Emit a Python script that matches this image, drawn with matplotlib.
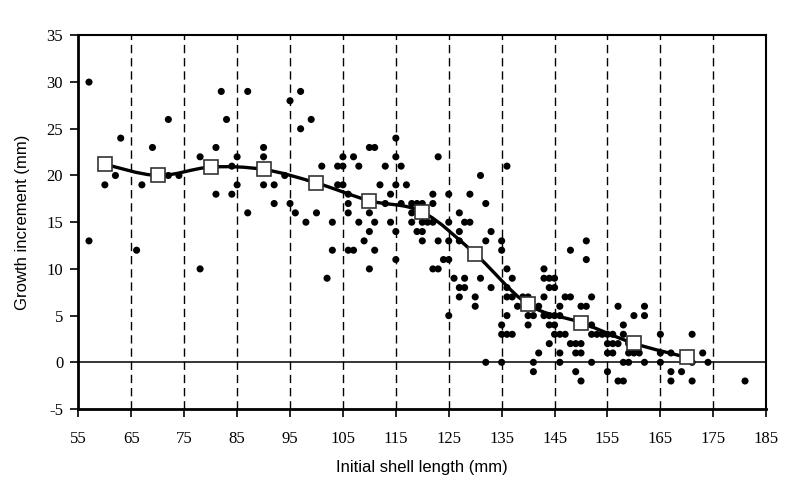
import matplotlib
matplotlib.use("Agg")
import matplotlib.pyplot as plt
import numpy as np
from matplotlib.path import Path
from matplotlib.patches import PathPatch

# individual observations (initial length mm, growth increment mm)
shell_length = [
    57, 57, 60, 62, 63, 66, 67, 69, 72, 72, 74, 78, 78, 81, 81, 82, 83, 84, 84, 85,
    85, 87, 87, 90, 90, 90, 92, 92, 94, 95, 95, 96, 97, 97, 98, 99, 100, 101, 102, 103,
    103, 104, 104, 105, 105, 105, 106, 106, 106, 106, 107, 107, 108, 108, 109, 110, 111, 110, 110, 110,
    110, 111, 111, 112, 113, 113, 114, 114, 115, 115, 115, 115, 115, 116, 116, 117, 118, 119, 120, 118,
    118, 119, 120, 120, 120, 121, 122, 122, 122, 123, 123, 125, 125, 125, 127, 127, 124, 125, 122, 123,
    126, 127, 127, 129, 131, 132, 128, 129, 133, 127, 132, 128, 131, 128, 133, 130, 130, 125, 136, 135,
    135, 136, 137, 136, 136, 137, 138, 139, 140, 136, 140, 141, 140, 135, 135, 136, 137, 142, 141, 141,
    132, 135, 143, 143, 144, 145, 144, 145, 143, 142, 144, 145, 145, 145, 144, 146, 146, 148, 151, 151,
    147, 148, 152, 146, 150, 151, 157, 162, 143, 146, 160, 162, 144, 152, 158, 146, 147, 152, 153, 154,
    155, 156, 158, 165, 148, 149, 150, 155, 156, 157, 159, 149, 150, 155, 156, 159, 160, 161, 165, 152,
    158, 159, 162, 165, 149, 150, 155, 157, 158, 171, 167, 173, 171, 174, 167, 169, 167, 171, 181,
]
growth_increment = [
    30, 13, 19, 20, 24, 12, 19, 23, 26, 20, 20, 22, 10, 23, 18, 29, 26, 21, 18, 22,
    19, 29, 16, 23, 22, 19, 19, 17, 20, 28, 17, 16, 29, 25, 15, 26, 16, 21, 9, 15,
    12, 21, 19, 22, 21, 19, 18, 17, 16, 12, 12, 22, 21, 15, 13, 23, 23, 17, 16, 14,
    10, 15, 12, 19, 21, 17, 18, 15, 24, 22, 19, 14, 11, 21, 17, 19, 17, 17, 17, 16,
    15, 14, 14, 13, 15, 15, 15, 18, 17, 22, 13, 13, 18, 15, 16, 14, 11, 11, 10, 10,
    9, 8, 7, 18, 20, 17, 15, 15, 14, 13, 13, 9, 9, 8, 8, 7, 6, 5, 21, 13,
    12, 10, 9, 8, 7, 7, 6, 7, 7, 5, 5, 5, 4, 4, 3, 3, 3, 1, 0, -1,
    0, 0, 10, 9, 9, 9, 8, 8, 7, 6, 5, 5, 4, 3, 2, 1, 0, 12, 13, 11,
    7, 7, 7, 6, 6, 6, 6, 6, 5, 5, 5, 5, 4, 4, 4, 3, 3, 3, 3, 3,
    3, 3, 3, 3, 2, 2, 2, 2, 2, 2, 2, 1, 1, 1, 1, 1, 1, 1, 1, 0,
    0, 0, 0, 0, -1, -2, -1, -2, -2, 3, 1, 1, 0, 0, -1, -1, -2, -2, -2,
]

# mean increment per 10 mm size class
class_mid = [60, 70, 80, 90, 100, 110, 120, 130, 140, 150, 160, 170]
class_mean = [21.2, 20.0, 20.9, 20.65, 19.2, 17.3, 16.1, 11.6, 6.2, 4.25, 2.03, 0.53]

class_edges = [65, 75, 85, 95, 105, 115, 125, 135, 145, 155, 165, 175]
x_ticks = list(range(55, 186, 10))
y_ticks = list(range(-5, 36, 5))

fig = plt.figure(figsize=(7.92, 4.86), dpi=100)
ax = fig.add_axes([0.099, 0.1584, 0.8684, 0.7688])

for e in class_edges:
    ax.axvline(e, color="black", lw=1.0, ls=(0, (6, 3.5)), zorder=1)
ax.axhline(0, color="black", lw=1.1, zorder=1)

ax.scatter(shell_length, growth_increment, s=26, color="black", edgecolors="none", zorder=3)

# smoothed line through the class means (Catmull-Rom as cubic Bezier)
pts = np.column_stack([class_mid, class_mean]).astype(float)
ext = np.vstack([pts[0], pts, pts[-1]])
verts = [tuple(pts[0])]
codes = [Path.MOVETO]
for i in range(1, len(ext) - 2):
    p0, p1, p2, p3 = ext[i - 1], ext[i], ext[i + 1], ext[i + 2]
    c1 = p1 + (p2 - p0) / 6.0
    c2 = p2 - (p3 - p1) / 6.0
    verts += [tuple(c1), tuple(c2), tuple(p2)]
    codes += [Path.CURVE4] * 3
ax.add_patch(PathPatch(Path(verts, codes), fill=False, edgecolor="black", lw=2.4, zorder=4))
ax.plot(class_mid, class_mean, ls="none", marker="s", ms=10.5, mfc="white", mec="#333333", mew=1.2, zorder=5)

ax.set_xlim(55, 185)
ax.set_ylim(-5, 35)
ax.set_xticks(x_ticks)
ax.set_yticks(y_ticks)
ax.set_xticklabels([str(t) for t in x_ticks], family="Liberation Serif", fontsize=12)
ax.set_yticklabels([str(t) for t in y_ticks], family="Liberation Serif", fontsize=12)
ax.tick_params(direction="out", length=6, width=1.2, color="black")
ax.tick_params(axis="x", pad=10)
ax.tick_params(axis="y", pad=5)

for side in ["left", "bottom"]:
    ax.spines[side].set_linewidth(2.0)
for side in ["top", "right"]:
    ax.spines[side].set_linewidth(1.5)

ax.set_xlabel("Initial shell length (mm)", family="Liberation Sans", fontsize=12, labelpad=9)
ax.set_ylabel("Growth increment (mm)", family="Liberation Sans", fontsize=12, labelpad=12)

fig.savefig("out.png", dpi=100)
